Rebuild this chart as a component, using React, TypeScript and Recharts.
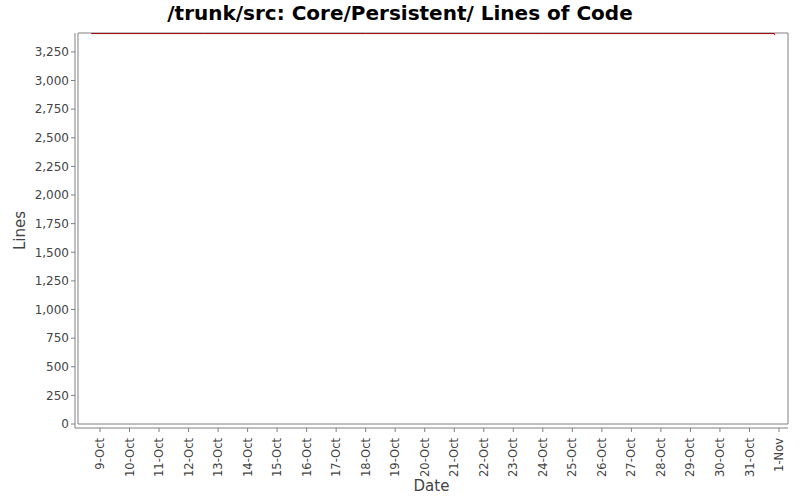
import { LineChart, Line, XAxis, YAxis, ReferenceArea } from "recharts";

// days counted from 1-Oct (32 = 1-Nov)
const dayTicks = [9, 10, 11, 12, 13, 14, 15, 16, 17, 18, 19, 20, 21, 22, 23, 24, 25, 26, 27, 28, 29, 30, 31, 32];
const lineTicks = [0, 250, 500, 750, 1000, 1250, 1500, 1750, 2000, 2250, 2500, 2750, 3000, 3250];

const locDays = [8.7, 12.5, 18.0, 24.0, 31.84];
const locValues = [3410, 3410, 3410, 3410, 3410];
const dropDays = [31.84, 31.86];
const dropValues = [3410, 3398];

const dayMin = 8.255;
const dayMax = 32.305;
const lineMax = 3415;

const locData = locDays.map((d, i) => ({ day: d, loc: locValues[i] }));
const dropData = dropDays.map((d, i) => ({ day: d, loc: dropValues[i] }));

const dayLabel = (d: number) => (d <= 31 ? `${d}-Oct` : `${d - 31}-Nov`);

const font = "'DejaVu Sans', sans-serif";

const DayTick = (props: any) => {
  const { x, y, payload } = props;
  return (
    <g transform={`translate(${x},${y})`}>
      <text
        transform="rotate(-90)"
        textAnchor="end"
        dy="0.35em"
        fontSize={11.5}
        fontFamily={font}
        fill="#444"
      >
        {dayLabel(payload.value)}
      </text>
    </g>
  );
};

export default function App() {
  return (
    <div style={{ position: "fixed", left: 0, top: 0, width: 800, height: 500, background: "#fff" }}>
      <div
        style={{
          position: "absolute",
          top: 1,
          left: 0,
          width: 800,
          textAlign: "center",
          fontFamily: font,
          fontWeight: "bold",
          fontSize: 20,
          color: "#000",
        }}
      >
        /trunk/src: Core/Persistent/ Lines of Code
      </div>
      <LineChart
        width={800}
        height={500}
        margin={{ top: 33, right: 12, left: 0, bottom: 0 }}
        style={{ position: "absolute", left: 0, top: 0 }}
      >
        <XAxis
          dataKey="day"
          type="number"
          domain={[dayMin, dayMax]}
          ticks={dayTicks}
          interval={0}
          height={72}
          padding={{ left: 3, right: 0 }}
          stroke="#808080"
          tickSize={4}
          tickMargin={6}
          tick={<DayTick />}
          allowDataOverflow
          label={{
            content: (p: any) => {
              const vb = p.viewBox;
              return (
                <text
                  x={vb.x + vb.width / 2}
                  y={491}
                  textAnchor="middle"
                  fontSize={15}
                  fontFamily={font}
                  fill="#444"
                >
                  Date
                </text>
              );
            },
          }}
        />
        <YAxis
          dataKey="loc"
          type="number"
          domain={[0, lineMax]}
          ticks={lineTicks}
          interval={0}
          width={75}
          padding={{ top: 0, bottom: 4 }}
          stroke="#808080"
          tickSize={4}
          tickMargin={2}
          tick={{ fontSize: 12, fontFamily: font, fill: "#444" }}
          tickFormatter={(v: number) => v.toLocaleString("en-US")}
          allowDataOverflow
          label={{
            content: (p: any) => {
              const vb = p.viewBox;
              const cy = vb.y + vb.height / 2;
              return (
                <text
                  x={20}
                  y={cy}
                  transform={`rotate(-90, 20, ${cy})`}
                  textAnchor="middle"
                  dy="0.35em"
                  fontSize={15}
                  fontFamily={font}
                  fill="#444"
                >
                  Lines
                </text>
              );
            },
          }}
        />
        <ReferenceArea
          x1={dayMin}
          x2={dayMax}
          y1={0}
          y2={lineMax}
          fill="none"
          stroke="#808080"
          strokeWidth={1}
        />
        <Line
          data={locData}
          dataKey="loc"
          type="linear"
          stroke="#a00000"
          strokeWidth={1}
          dot={false}
          isAnimationActive={false}
        />
        <Line
          data={dropData}
          dataKey="loc"
          type="linear"
          stroke="#ff0000"
          strokeWidth={1.2}
          dot={false}
          isAnimationActive={false}
        />
      </LineChart>
    </div>
  );
}
